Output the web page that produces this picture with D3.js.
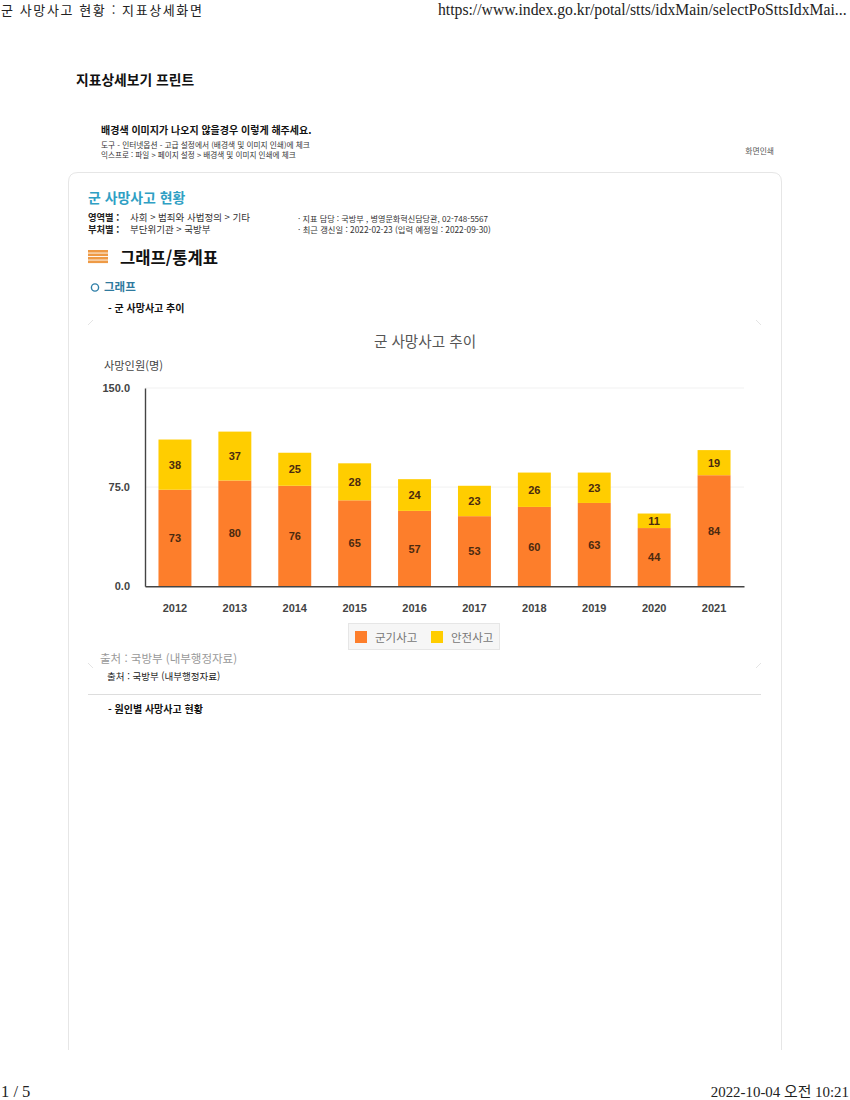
<!DOCTYPE html>
<html lang="ko">
<head>
<meta charset="utf-8">
<title>군 사망사고 현황</title>
<script src="https://cdn.jsdelivr.net/npm/d3@7"></script>
<style>
  html, body { margin: 0; padding: 0; background: #fff; }
  svg { display: block; }
  text { font-family: "Noto Sans CJK KR", "Noto Sans", sans-serif; }
</style>
</head>
<body>
<div id="page"></div>
<script>
const years = ["2012", "2013", "2014", "2015", "2016", "2017", "2018", "2019", "2020", "2021"];
const militaryAccidents = [73, 80, 76, 65, 57, 53, 60, 63, 44, 84];
const safetyAccidents = [38, 37, 25, 28, 24, 23, 26, 23, 11, 19];
const seriesNames = ["군기사고", "안전사고"];
const seriesColors = ["#fd7e2b", "#ffcd00"];
const yTicks = [0, 75, 150];

const width = 850;
const height = 1100;

const svg = d3.select("#page")
  .append("svg")
  .attr("width", width)
  .attr("height", height)
  .attr("viewBox", [0, 0, width, height]);

// 페이지 글자 helper
function label(x, y, str, size, fill, weight, anchor, family) {
  const t = svg.append("text")
    .attr("x", x)
    .attr("y", y)
    .attr("font-size", size)
    .attr("fill", fill || "#222")
    .attr("font-weight", weight || 400)
    .attr("text-anchor", anchor || "start")
    .text(str);
  if (family) t.style("font-family", family);
  return t;
}

const serif = '"Liberation Serif", "Noto Sans CJK KR", serif';

// print header / footer
label(1, 15, "군 사망사고 현황 : 지표상세화면", 13, "#222", 400).attr("letter-spacing", 1.6);
label(438, 15, "https://www.index.go.kr/potal/stts/idxMain/selectPoSttsIdxMai...", 15.7, "#222", 400, "start", serif);
label(1, 1097, "1 / 5", 16.5, "#222", 400, "start", serif);
label(849, 1097, "2022-10-04 오전 10:21", 14.9, "#222", 400, "end", serif);

label(76, 85, "지표상세보기 프린트", 13.8, "#111", 700);

label(101, 134, "배경색 이미지가 나오지 않을경우 이렇게 해주세요.", 10, "#111", 700);
label(101, 148, "도구 - 인터넷옵션 - 고급 설정에서 (배경색 및 이미지 인쇄)에 체크", 7.7, "#333");
label(101, 158, "익스프로 : 파일 > 페이지 설정 > 배경색 및 이미지 인쇄에 체크", 7.6, "#333");
label(774, 154, "화면인쇄", 7.8, "#555", 400, "end");

// card
svg.append("path")
  .attr("d", "M68.5,1050 V182 Q68.5,172.5 78,172.5 H772 Q781.5,172.5 781.5,182 V1050")
  .attr("fill", "none")
  .attr("stroke", "#e6e6e6");

label(88, 203, "군 사망사고 현황", 13.9, "#2f9fc4", 700);
label(88, 221, "영역별 :", 9.3, "#222", 700);
label(130, 221, "사회 > 범죄와 사법정의 > 기타", 9.5, "#333");
label(88, 233, "부처별 :", 9.3, "#222", 700);
label(130, 233, "부단위기관 > 국방부", 9.5, "#333");
label(298, 221.5, "· 지표 담당 : 국방부 , 병영문화혁신담당관, 02-748-5567", 8.1, "#333");
label(298, 233, "· 최근 갱신일 : 2022-02-23 (입력 예정일 : 2022-09-30)", 8.3, "#333");

// section icon
svg.append("g").selectAll("rect")
  .data(d3.range(4))
  .join("rect")
  .attr("x", 88)
  .attr("y", d => 250 + d * 3.5)
  .attr("width", 20)
  .attr("height", 2.6)
  .attr("fill", "#ee9a45");

label(120, 264, "그래프/통계표", 16.6, "#111", 700);

svg.append("circle")
  .attr("cx", 95)
  .attr("cy", 287.5)
  .attr("r", 3.6)
  .attr("fill", "none")
  .attr("stroke", "#2f7fa8")
  .attr("stroke-width", 1.4);
label(104, 291, "그래프", 11.5, "#2f7a9e", 700);
label(108, 312, "- 군 사망사고 추이", 10, "#111", 700);

// inner chart frame, only the corners show
const corners = [
  "M88,325 L93,320", "M756,320 L761,325",
  "M88,663 L93,668", "M756,668 L761,663"
];
svg.append("g").selectAll("path")
  .data(corners)
  .join("path")
  .attr("d", d => d)
  .attr("stroke", "#e4e4e4")
  .attr("fill", "none");

label(425, 347, "군 사망사고 추이", 14.6, "#555", 400, "middle");
label(104, 370, "사망인원(명)", 11.2, "#444");

// chart
const x = d3.scaleBand()
  .domain(years)
  .range([145, 744])
  .paddingInner(0.45)
  .paddingOuter(0.225);

const y = d3.scaleLinear()
  .domain([0, 150])
  .range([586.2, 388]);

svg.append("g").selectAll("line")
  .data(yTicks.slice(1))
  .join("line")
  .attr("x1", 145)
  .attr("x2", 744)
  .attr("y1", d => y(d))
  .attr("y2", d => y(d))
  .attr("stroke", "#f1f1f1");

const stacked = d3.stack()
  .keys([0, 1])
  .value((d, k) => d[k])(years.map((yr, i) => [militaryAccidents[i], safetyAccidents[i]]));

const layers = svg.append("g")
  .selectAll("g")
  .data(stacked)
  .join("g")
  .attr("fill", (d, i) => seriesColors[i]);

layers.selectAll("rect")
  .data(d => d)
  .join("rect")
  .attr("x", (d, i) => x(years[i]))
  .attr("y", d => y(d[1]))
  .attr("width", x.bandwidth())
  .attr("height", d => y(d[0]) - y(d[1]));

layers.selectAll("text")
  .data(d => d)
  .join("text")
  .attr("x", (d, i) => x(years[i]) + x.bandwidth() / 2)
  .attr("y", d => y((d[0] + d[1]) / 2) + 4)
  .attr("text-anchor", "middle")
  .attr("font-size", 11)
  .attr("font-weight", 700)
  .attr("fill", "#4a2a10")
  .style("font-family", '"Liberation Sans", Arial, sans-serif')
  .text(d => d[1] - d[0]);

const xAxis = svg.append("g")
  .attr("transform", `translate(0,${y(0)})`)
  .call(d3.axisBottom(x).tickSize(0).tickPadding(18));
xAxis.select(".domain").attr("stroke", "#444").attr("stroke-width", 1.4);
xAxis.selectAll("text")
  .attr("font-size", 11)
  .attr("font-weight", 700)
  .attr("fill", "#444")
  .style("font-family", '"Liberation Sans", Arial, sans-serif');

const yAxis = svg.append("g")
  .attr("transform", "translate(145,0)")
  .call(d3.axisLeft(y).tickValues(yTicks).tickFormat(d3.format(".1f")).tickSize(0).tickPadding(15));
yAxis.select(".domain").attr("stroke", "#444").attr("stroke-width", 1.4);
yAxis.selectAll("text")
  .attr("font-size", 11)
  .attr("font-weight", 700)
  .attr("fill", "#444")
  .style("font-family", '"Liberation Sans", Arial, sans-serif');

// legend
svg.append("rect")
  .attr("x", 348.5)
  .attr("y", 623.5)
  .attr("width", 151)
  .attr("height", 26)
  .attr("fill", "#f6f6f6")
  .attr("stroke", "#e6e6e6");

const legendX = d3.scaleOrdinal().domain(seriesNames).range([355, 431]);
const legend = svg.append("g").selectAll("g")
  .data(seriesNames)
  .join("g")
  .attr("transform", d => `translate(${legendX(d)},631)`);
legend.append("rect")
  .attr("width", 12)
  .attr("height", 12)
  .attr("fill", (d, i) => seriesColors[i]);
legend.append("text")
  .attr("x", 20)
  .attr("y", 10.5)
  .attr("font-size", 11.5)
  .attr("fill", "#777")
  .text(d => d);

label(100, 663, "출처 : 국방부 (내부행정자료)", 11.5, "#999");
label(107, 680, "출처 : 국방부 (내부행정자료)", 9.5, "#222");
svg.append("line")
  .attr("x1", 88)
  .attr("x2", 761)
  .attr("y1", 694.5)
  .attr("y2", 694.5)
  .attr("stroke", "#ddd");
label(108, 713, "- 원인별 사망사고 현황", 10, "#111", 700);
</script>
</body>
</html>
